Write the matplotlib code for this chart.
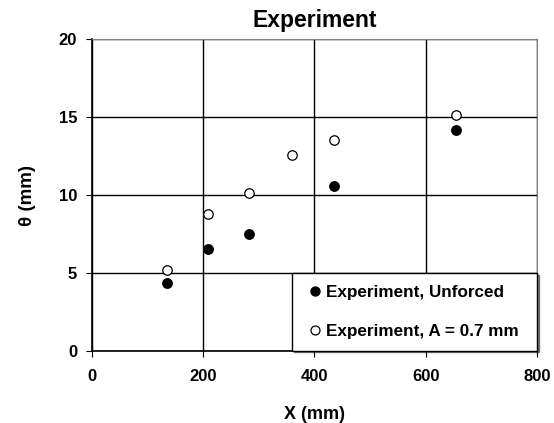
import numpy as np
import matplotlib.pyplot as plt

plt.rcParams['font.family'] = ['Liberation Sans', 'DejaVu Sans']
plt.rcParams['font.weight'] = 'bold'

# data
x_unforced = [135, 209, 283, 435, 655]
y_unforced = [4.37, 6.56, 7.50, 10.57, 14.18]
x_forced = [135, 209, 283, 359, 435, 655]
y_forced = [5.17, 8.81, 10.13, 12.58, 13.56, 15.15]

xticks = [0, 200, 400, 600, 800]
yticks = [0, 5, 10, 15, 20]

W, H = 554, 423
fig = plt.figure(figsize=(W / 100, H / 100), dpi=100)
left, right, top, bottom = 91.7, 537, 39.3, 350.7
ax = fig.add_axes([left / W, 1 - bottom / H, (right - left) / W, (bottom - top) / H])

ax.set_xlim(0, 800)
ax.set_ylim(0, 20)
ax.set_xticks(xticks)
ax.set_yticks(yticks)
ax.grid(True, color='black', linewidth=1.0)
ax.set_axisbelow(True)

ax.plot(x_unforced, y_unforced, 'o', color='black', markersize=6.8,
        label='Experiment, Unforced', zorder=3)
ax.plot(x_forced, y_forced, 'o', markerfacecolor='white', markeredgecolor='black',
        markeredgewidth=0.9, markersize=6.8, label='Experiment, A = 0.7 mm', zorder=3)

for s in ['top', 'right']:
    ax.spines[s].set_color('#808080')
for s in ['left', 'bottom']:
    ax.spines[s].set_color('black')
    ax.spines[s].set_linewidth(1.2)

ax.tick_params(axis='y', direction='out', length=4.5, labelsize=12, pad=6)
ax.tick_params(axis='x', direction='inout', length=8, labelsize=12, pad=9)
for lab in ax.get_xticklabels() + ax.get_yticklabels():
    lab.set_fontweight('bold')

ax.set_xlabel('X (mm)', fontsize=13, fontweight='bold', labelpad=16)
ax.set_ylabel('θ (mm)', fontsize=13.5, fontweight='bold', labelpad=16)
ax.set_title('Experiment', fontsize=16.5, fontweight='bold', pad=9)

# legend box spans x 292..537 px
lx0 = (292 - left) / (right - left)
lw = 1 - lx0
lh = (350.7 - 271) / (bottom - top)
leg = ax.legend(loc='lower left', bbox_to_anchor=(lx0, 0.0, lw, lh), mode='expand',
                frameon=True, fancybox=False, shadow={'ox': 1.2, 'oy': -1.2, 'shade': 0.9},
                edgecolor='black', framealpha=1, borderaxespad=0,
                prop={'weight': 'bold', 'size': 12.3}, markerscale=0.95,
                handlelength=1.3, handletextpad=0.0, labelspacing=1.4,
                borderpad=0.7)
leg.get_frame().set_linewidth(1.0)
leg.set_zorder(5)

fig.savefig('out.png', dpi=100)
